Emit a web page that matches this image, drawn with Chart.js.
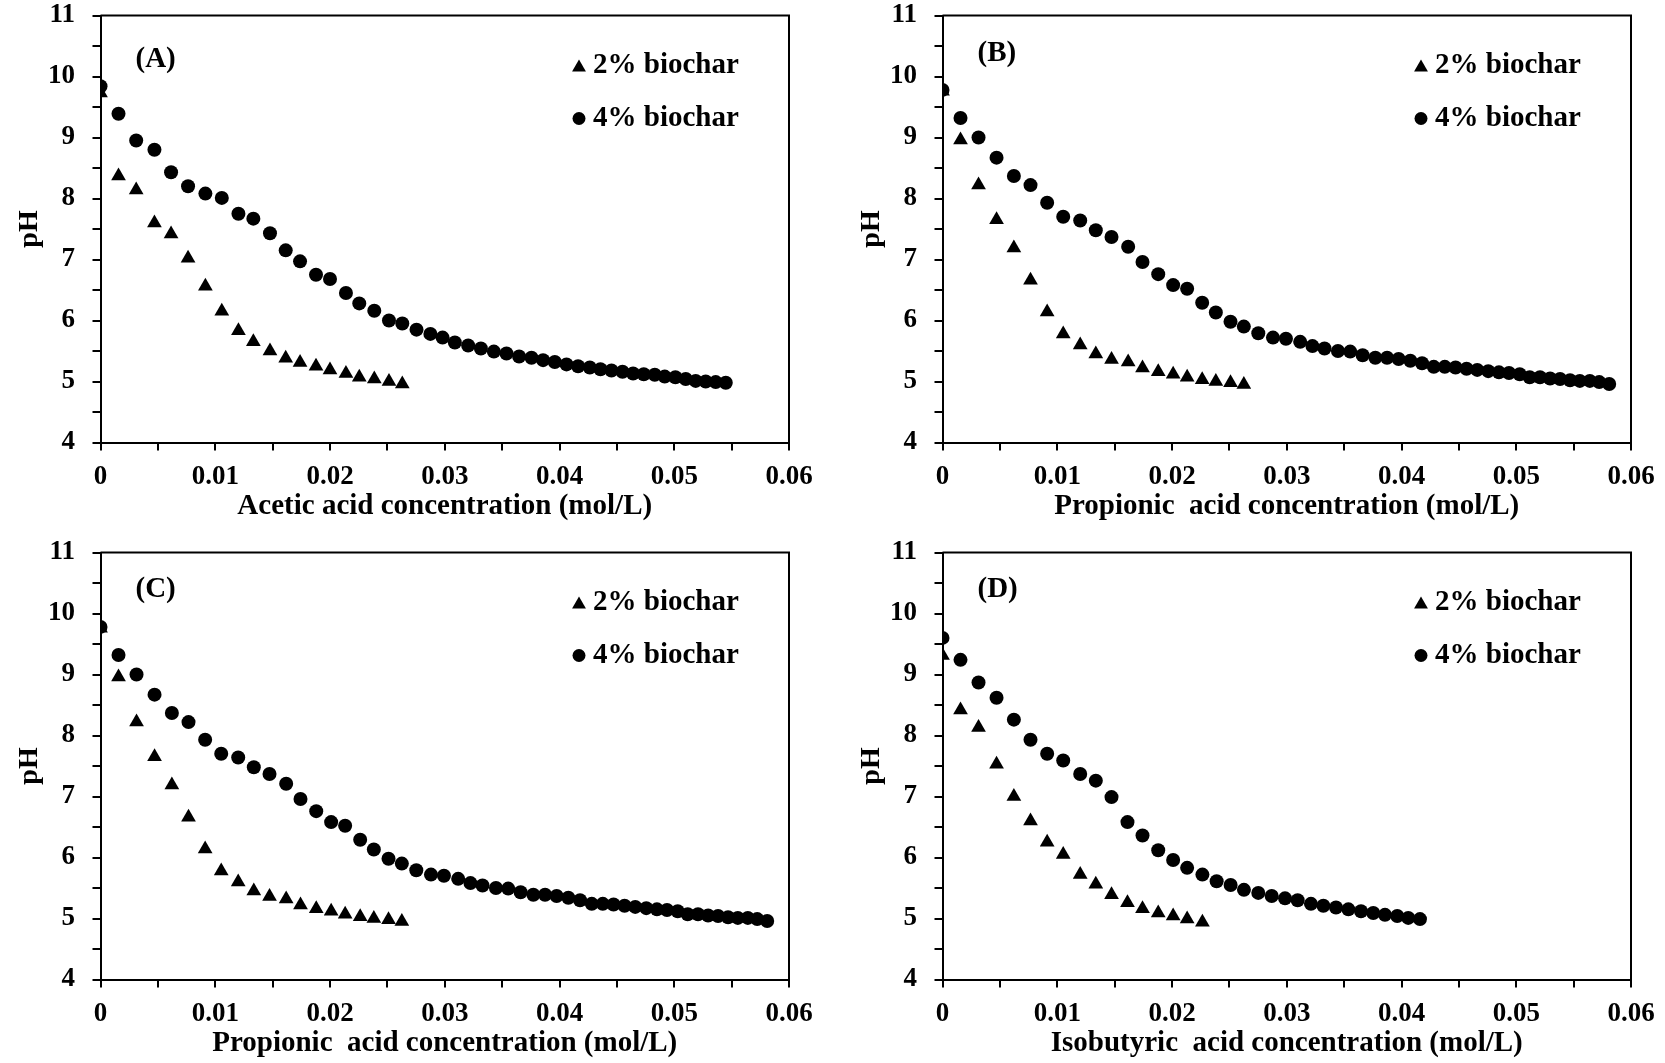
<!DOCTYPE html>
<html>
<head>
<meta charset="utf-8">
<script src="https://cdn.jsdelivr.net/npm/chart.js@4.4.1/dist/chart.umd.min.js"></script>
<style>
html,body{margin:0;padding:0;background:#fff;width:1665px;height:1063px;overflow:hidden;}
canvas{position:absolute;}
</style>
</head>
<body>
<canvas id="cA" width="823" height="526" style="left:0px;top:0px"></canvas>
<canvas id="cB" width="823" height="526" style="left:842px;top:0px"></canvas>
<canvas id="cC" width="823" height="526" style="left:0px;top:537px"></canvas>
<canvas id="cD" width="823" height="526" style="left:842px;top:537px"></canvas>
<script>
const FONT = '"Liberation Serif", "Times New Roman", Times, serif';

// ---- Panel A: acetic acid ----
const concA = [0, 0.00157, 0.00311, 0.0047, 0.00615, 0.00763, 0.00914, 0.01057, 0.01202, 0.01332,
  0.01477, 0.01614, 0.01739, 0.01878, 0.02, 0.02139, 0.02255, 0.02386, 0.02514, 0.0263,
  0.02754, 0.02875, 0.02981, 0.03088, 0.03204, 0.03315, 0.03428, 0.03538, 0.03648, 0.03756,
  0.03857, 0.03959, 0.04061, 0.04162, 0.04264, 0.04357, 0.04453, 0.04549, 0.04641, 0.04734,
  0.0483, 0.04917, 0.0501, 0.051, 0.05187, 0.05274, 0.05361, 0.05449];
const pHA2 = [9.73, 8.37, 8.14, 7.60, 7.42, 7.02, 6.56, 6.15, 5.83, 5.65,
  5.50, 5.38, 5.31, 5.25, 5.19, 5.13, 5.07, 5.04, 5.00, 4.96];
const pHA4 = [9.84, 9.39, 8.95, 8.80, 8.43, 8.20, 8.08, 8.01, 7.75, 7.67,
  7.43, 7.15, 6.97, 6.75, 6.68, 6.45, 6.28, 6.16, 6.00, 5.95,
  5.85, 5.78, 5.72, 5.64, 5.59, 5.54, 5.49, 5.46, 5.41, 5.39,
  5.35, 5.32, 5.28, 5.25, 5.23, 5.20, 5.18, 5.16, 5.13, 5.12,
  5.11, 5.08, 5.07, 5.04, 5.01, 5.00, 4.99, 4.98];

// ---- Panels B and C: propionic acid ----
const concB = [0, 0.00157, 0.00314, 0.00471, 0.00622, 0.00767, 0.00912, 0.01052, 0.012, 0.01336,
  0.01473, 0.01618, 0.01743, 0.0188, 0.0201, 0.02132, 0.02263, 0.02382, 0.0251, 0.02626,
  0.02752, 0.0288, 0.02993, 0.03117, 0.03224, 0.03329, 0.03446, 0.03553, 0.03661, 0.03772,
  0.03874, 0.03975, 0.04077, 0.04179, 0.04281, 0.04377, 0.04471, 0.04567, 0.0466, 0.04756,
  0.04849, 0.04937, 0.0503, 0.05117, 0.05207, 0.05295, 0.05382, 0.05469, 0.05554, 0.05641,
  0.05723, 0.0581];
const pHB2 = [9.76, 8.96, 8.22, 7.65, 7.19, 6.66, 6.14, 5.78, 5.60, 5.45,
  5.36, 5.32, 5.22, 5.16, 5.12, 5.07, 5.03, 5.00, 4.98, 4.95];
const pHB4 = [9.78, 9.32, 9.00, 8.67, 8.37, 8.22, 7.93, 7.70, 7.64, 7.48,
  7.37, 7.21, 6.96, 6.76, 6.58, 6.52, 6.29, 6.13, 5.98, 5.90,
  5.79, 5.72, 5.70, 5.65, 5.58, 5.54, 5.50, 5.49, 5.43, 5.39,
  5.39, 5.37, 5.34, 5.30, 5.24, 5.24, 5.23, 5.21, 5.19, 5.17,
  5.15, 5.14, 5.12, 5.07, 5.07, 5.05, 5.04, 5.02, 5.01, 5.01,
  4.99, 4.96];

// ---- Panel D: isobutyric acid ----
const concD = [0, 0.00157, 0.00314, 0.00471, 0.00622, 0.00767, 0.00912, 0.01052, 0.012, 0.01336,
  0.01473, 0.01612, 0.01743, 0.0188, 0.0201, 0.02132, 0.02265, 0.02389, 0.02511, 0.02627,
  0.02752, 0.02869, 0.02985, 0.03095, 0.03211, 0.03319, 0.03429, 0.03537, 0.03647, 0.03754,
  0.03856, 0.03963, 0.04059, 0.04161];
const pHD2 = [9.31, 8.42, 8.13, 7.53, 7.00, 6.60, 6.25, 6.05, 5.72, 5.56,
  5.39, 5.26, 5.16, 5.09, 5.04, 4.99, 4.94];
const pHD4 = [9.60, 9.24, 8.87, 8.62, 8.26, 7.93, 7.70, 7.59, 7.37, 7.26,
  6.99, 6.58, 6.36, 6.12, 5.96, 5.83, 5.72, 5.61, 5.55, 5.47,
  5.42, 5.37, 5.33, 5.30, 5.24, 5.21, 5.18, 5.15, 5.12, 5.09,
  5.06, 5.04, 5.01, 4.99];

const seriesLabels = ['2% biochar', '4% biochar'];
const panelTags = ['(A)', '(B)', '(C)', '(D)'];
const axisTitles = ['Acetic acid concentration (mol/L)', 'Propionic  acid concentration (mol/L)',
  'Propionic  acid concentration (mol/L)', 'Isobutyric  acid concentration (mol/L)'];
const xTicksMin = 0, xTicksMax = 0.06, yTicksMin = 4, yTicksMax = 11;

const panels = [
  {id:'cA', x2:concA, y2:pHA2, x4:concA, y4:pHA4, tagDy:44},
  {id:'cB', x2:concB, y2:pHB2, x4:concB, y4:pHB4, tagDy:38},
  {id:'cC', x2:concB, y2:pHB2, x4:concB, y4:pHB4, tagDy:37},
  {id:'cD', x2:concD, y2:pHD2, x4:concD, y4:pHD4, tagDy:37}
];

function pts(xs, ys){ return ys.map((y, i) => ({x: xs[i], y: y})); }

function markerPath(ctx, style, r, x, y){
  ctx.beginPath();
  if (style === 'triangle') {
    for (let k = 0; k < 3; k++) {
      const a = k * 2 * Math.PI / 3;
      const px = x + Math.sin(a) * r, py = y - Math.cos(a) * r;
      if (k === 0) ctx.moveTo(px, py); else ctx.lineTo(px, py);
    }
    ctx.closePath();
  } else {
    ctx.arc(x, y, r, 0, Math.PI * 2);
  }
  ctx.fill();
}

const overlay = {
  id: 'overlay',
  afterDatasetsDraw(chart, args, opts){
    const ctx = chart.ctx, a = chart.chartArea;
    ctx.save();
    ctx.strokeStyle = '#000';
    ctx.lineWidth = 2;
    ctx.beginPath();
    ctx.moveTo(a.left, a.top);
    ctx.lineTo(a.right, a.top);
    ctx.lineTo(a.right, a.bottom);
    ctx.stroke();
    ctx.fillStyle = '#000';
    ctx.textAlign = 'left';
    ctx.textBaseline = 'middle';
    ctx.font = 'bold 29px ' + FONT;
    ctx.fillText(opts.tag, a.left + 35, a.top + opts.tagDy);
    ctx.font = 'bold 29px ' + FONT;
    chart.data.datasets.forEach((ds, i) => {
      const y = a.top + 50 + i * 53;
      const mx = a.right - 210;
      if (ds.pointStyle === 'triangle') markerPath(ctx, 'triangle', 8, mx, y + 2);
      else markerPath(ctx, 'circle', 6.5, mx, y);
      ctx.fillText(ds.label, mx + 14, y);
    });
    ctx.restore();
  }
};

const tickFont = {family: FONT, size: 27, weight: 'bold', lineHeight: 1};

panels.forEach((p, idx) => {
  new Chart(document.getElementById(p.id), {
    type: 'scatter',
    data: {
      datasets: [
        {label: seriesLabels[0], data: pts(p.x2, p.y2), pointStyle: 'triangle', pointRadius: 8.5,
         pointHoverRadius: 8.5, backgroundColor: '#000', borderColor: '#000', borderWidth: 0},
        {label: seriesLabels[1], data: pts(p.x4, p.y4), pointStyle: 'circle', pointRadius: 7,
         pointHoverRadius: 7, backgroundColor: '#000', borderColor: '#000', borderWidth: 0}
      ]
    },
    options: {
      responsive: false,
      animation: false,
      devicePixelRatio: 1,
      events: [],
      layout: {padding: {left: 0, right: 34, top: 15.5, bottom: 0}},
      plugins: {
        legend: {display: false},
        tooltip: {enabled: false},
        overlay: {tag: panelTags[idx], tagDy: p.tagDy}
      },
      scales: {
        x: {
          type: 'linear', position: 'bottom', min: xTicksMin, max: xTicksMax,
          afterFit(s){ s.height = 83.5; s.paddingLeft = 0; s.paddingRight = 0; },
          border: {display: true, color: '#000', width: 2},
          grid: {display: true, drawOnChartArea: false, drawTicks: true, tickLength: 8, color: '#000', lineWidth: 2},
          ticks: {
            stepSize: 0.005, autoSkip: false, maxRotation: 0, minRotation: 0, padding: 13,
            color: '#000', font: tickFont,
            callback(v){
              const m = Math.round(v * 1000);
              if (m % 10 !== 0) return '';
              return String(m / 1000);
            }
          },
          title: {display: true, text: axisTitles[idx], color: '#000',
                  font: {family: FONT, size: 29, weight: 'bold', lineHeight: 1.2},
                  padding: {top: 0, bottom: 2}}
        },
        y: {
          type: 'linear', position: 'left', min: yTicksMin, max: yTicksMax,
          afterFit(s){ s.width = 100.5; s.paddingTop = 0; s.paddingBottom = 0; },
          border: {display: true, color: '#000', width: 2},
          grid: {display: true, drawOnChartArea: false, drawTicks: true, tickLength: 8, color: '#000', lineWidth: 2},
          ticks: {
            stepSize: 0.5, autoSkip: false, padding: 17.5, color: '#000', font: tickFont,
            callback(v){ return Number.isInteger(v) ? String(v) : ''; }
          },
          title: {display: true, text: 'pH', color: '#000',
                  font: {family: FONT, size: 28, weight: 'bold', lineHeight: 1.2},
                  padding: {top: 13, bottom: 0}}
        }
      }
    },
    plugins: [overlay]
  });
});
</script>
</body>
</html>
